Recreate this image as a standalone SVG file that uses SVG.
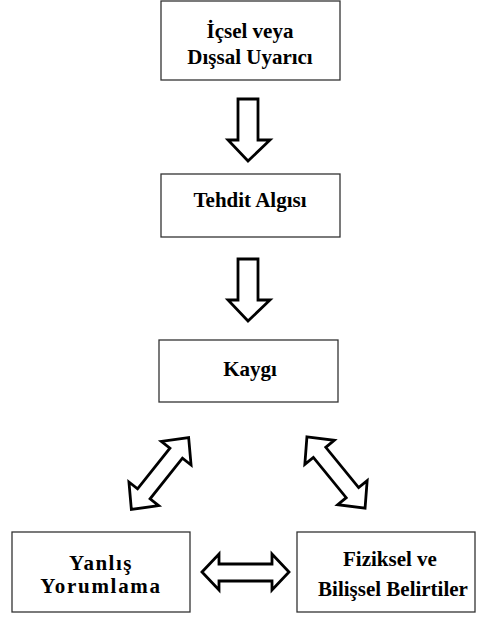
<svg xmlns="http://www.w3.org/2000/svg" width="482" height="617" viewBox="0 0 482 617">
<style>
.box{fill:#fff;stroke:#333;stroke-width:1.3}
.t{font-family:"Liberation Serif","Times New Roman",serif;font-weight:bold;font-size:21px;fill:#000;text-anchor:middle}
.arr{fill:#fff;stroke:#000;stroke-width:2.8;stroke-linejoin:miter}
</style>
<defs>
<path id="dbl" d="M -46,0 L -26,-19 L -26,-8 L 26,-8 L 26,-19 L 46,0 L 26,19 L 26,8 L -26,8 L -26,19 Z"/>
</defs>
<rect width="482" height="617" fill="#fff"/>
<g id="connectors">
<path class="arr" d="M 238,99 L 258,99 L 258,140 L 270,140 L 248,161 L 228,140 L 238,140 Z"/>
<path class="arr" d="M 238,259 L 258,259 L 258,300 L 270,300 L 248,321 L 228,300 L 238,300 Z"/>
<use href="#dbl" class="arr" transform="translate(160,473.5) rotate(-51.5)"/>
<use href="#dbl" class="arr" transform="translate(336,472.5) rotate(50.8)"/>
<path class="arr" d="M 202,572 L 219,554 L 219,564 L 272,564 L 272,554 L 289,572 L 272,590 L 272,581 L 219,581 L 219,590 Z"/>
</g>
<g id="n1">
<rect class="box" x="161" y="1" width="179" height="79"/>
<text class="t" x="250" y="38">İçsel veya</text>
<text class="t" x="250" y="64">Dışsal Uyarıcı</text>
</g>
<g id="n2">
<rect class="box" x="161" y="174" width="179" height="63"/>
<text class="t" x="250" y="207">Tehdit Algısı</text>
</g>
<g id="n3">
<rect class="box" x="159" y="340" width="179" height="62"/>
<text class="t" x="250" y="376">Kaygı</text>
</g>
<g id="n4">
<rect class="box" x="12" y="532" width="178" height="80"/>
<text class="t" x="101" y="570" letter-spacing="1.5">Yanlış</text>
<text class="t" x="101" y="593" letter-spacing="1.7">Yorumlama</text>
</g>
<g id="n5">
<rect class="box" x="297" y="532" width="178" height="80"/>
<text class="t" x="390" y="566">Fiziksel ve</text>
<text class="t" x="393" y="596">Bilişsel  Belirtiler</text>
</g>
</svg>
